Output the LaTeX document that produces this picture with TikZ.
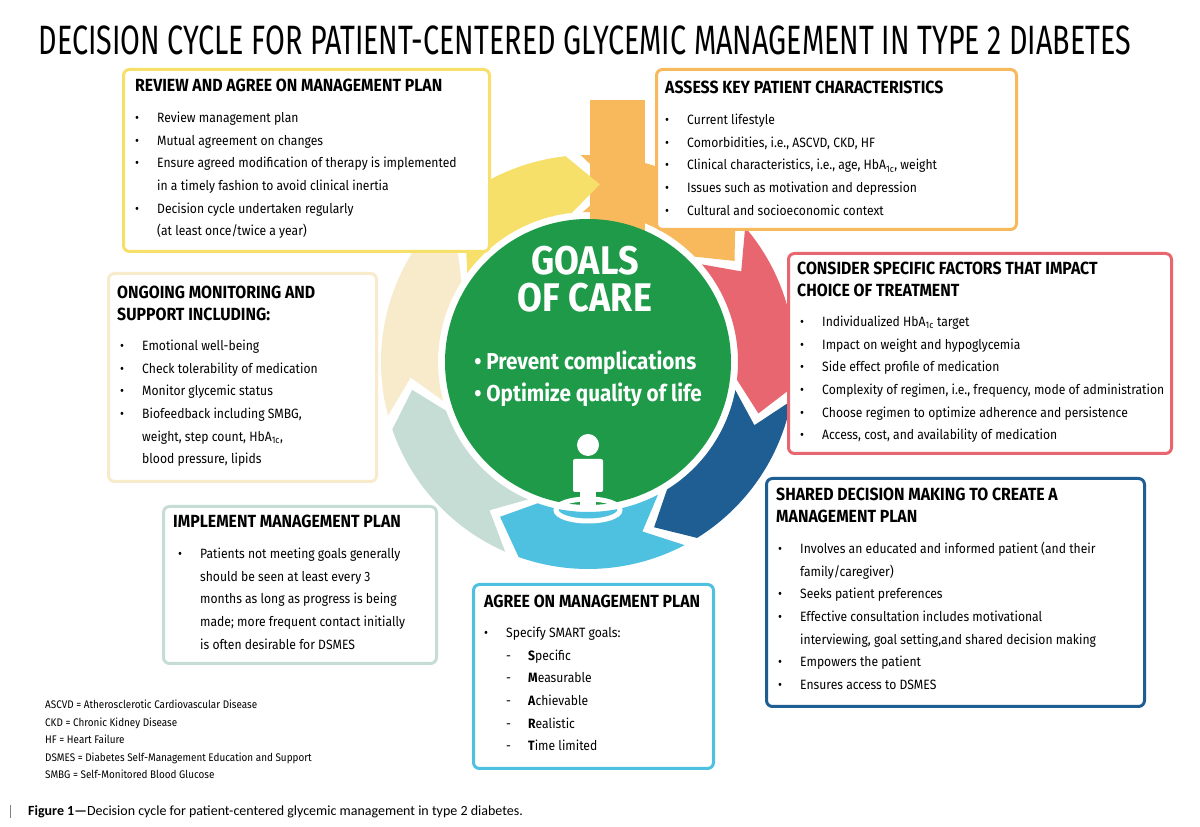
\documentclass[tikz,border=0pt]{standalone}
\usepackage{fontspec}
\setmainfont{Fira Sans}[FakeStretch=0.9]
\newfontfamily\titfont{Fira Sans}[FakeStretch=0.7]
\newfontfamily\capfont{Carlito}
\begin{document}
\begin{tikzpicture}[x=1pt,y=1pt,
  box/.style={draw=#1,line width=3pt,rounded corners=6pt,fill=white},
  txt/.style={anchor=north west,inner sep=0pt,align=left,font=\fontsize{13.5}{22.6}\selectfont},
  hd/.style={anchor=north west,inner sep=0pt,align=left,font=\fontsize{17.6}{21.5}\selectfont\bfseries}]
\definecolor{cyel}{HTML}{F6E06A}
\definecolor{cora}{HTML}{F8B95C}
\definecolor{cred}{HTML}{E8666F}
\definecolor{cblu}{HTML}{1F5E93}
\definecolor{clbl}{HTML}{4EC0E0}
\definecolor{ctea}{HTML}{C6DDD6}
\definecolor{cbei}{HTML}{F7EBCB}
\definecolor{cgrn}{HTML}{1E9A49}
\newcommand\itm[1]{\makebox[22pt][l]{\textbullet}#1}
\newcommand\cnt[1]{\hspace*{22pt}#1}
\newcommand\dsh[1]{\hspace*{22pt}\makebox[22pt][l]{-}#1}
\newcommand\seg[2]{\fill[#1] (#2:207) arc[start angle=#2,end angle=#2-47.4,radius=207] -- (#2-57.4:178) -- (#2-47.4:150) arc[start angle=#2-47.4,end angle=#2,radius=150] -- (#2-10:178) -- cycle;}
\useasboundingbox (0,0) rectangle (1200,827);
\fill[white] (0,0) rectangle (1200,827);
\node[inner sep=0pt,font=\titfont\fontsize{41}{41}\selectfont] (title) at (585,787) {DECISION CYCLE FOR PATIENT-CENTERED GLYCEMIC MANAGEMENT IN TYPE 2 DIABETES};
\begin{scope}[shift={(588,465)}]
\fill[cora] (2,0) rectangle (57,262);
\seg{cora}{92}
\seg{cred}{40.6}
\seg{cblu}{-10.8}
\seg{clbl}{-62.2}
\seg{ctea}{-113.6}
\seg{cbei}{-165}
\seg{cyel}{143.6}
\node[circle,fill=cgrn,minimum size=286pt,inner sep=0pt] (goal) at (0,0) {};
\node[text=white,font=\fontsize{40}{37}\selectfont\bfseries,align=center,inner sep=0pt] (gt) at (-3,83) {GOALS\\OF CARE};
\node[text=white,font=\fontsize{23}{32}\selectfont\bfseries,align=left,inner sep=0pt] (gb) at (0,-17) {\textbullet\ Prevent complications\\\textbullet\ Optimize quality of life};
\fill[white] (0,-83) circle (11);
\fill[white,rounded corners=2pt] (-15,-97) rectangle (15,-130);
\draw[white,line width=5pt] (0,-148) ellipse (32 and 11);
\fill[white] (-8,-128) rectangle (8,-148);
\end{scope}
% boxes
\node[box=cyel,minimum width=366pt,minimum height=182pt,anchor=north west] (rev) at (122,759) {};
\node[box=cora,minimum width=360pt,minimum height=160pt,anchor=north west] (ass) at (655,759) {};
\node[box=cred,minimum width=383pt,minimum height=200pt,anchor=north west] (con) at (787,575) {};
\node[box=cblu,minimum width=378pt,minimum height=228pt,anchor=north west] (sha) at (765,350) {};
\node[box=clbl,minimum width=240pt,minimum height=184pt,anchor=north west] (agr) at (472,244) {};
\node[box=ctea,minimum width=273pt,minimum height=157pt,anchor=north west] (imp) at (162,322) {};
\node[box=cbei,minimum width=268pt,minimum height=208pt,anchor=north west] (ong) at (107,555) {};
% texts
\node[hd] (revh) at (135,748) {REVIEW AND AGREE ON MANAGEMENT PLAN};
\node[txt] (revt) at (135,715) {\itm{Review management plan}\\\itm{Mutual agreement on changes}\\\itm{Ensure agreed modification of therapy is implemented}\\\cnt{in a timely fashion to avoid clinical inertia}\\\itm{Decision cycle undertaken regularly}\\\cnt{(at least once/twice a year)}};
\node[hd] (assh) at (665,746) {ASSESS KEY PATIENT CHARACTERISTICS};
\node[txt] (asst) at (665,713) {\itm{Current lifestyle}\\\itm{Comorbidities, i.e., ASCVD, CKD, HF}\\\itm{Clinical characteristics, i.e., age, HbA\textsubscript{1c}, weight}\\\itm{Issues such as motivation and depression}\\\itm{Cultural and socioeconomic context}};
\node[hd] (conh) at (797,565) {CONSIDER SPECIFIC FACTORS THAT IMPACT\\CHOICE OF TREATMENT};
\node[txt] (cont) at (800,511) {\itm{Individualized HbA\textsubscript{1c} target}\\\itm{Impact on weight and hypoglycemia}\\\itm{Side effect profile of medication}\\\itm{Complexity of regimen, i.e., frequency, mode of administration}\\\itm{Choose regimen to optimize adherence and persistence}\\\itm{Access, cost, and availability of medication}};
\node[hd] (shah) at (776,339) {SHARED DECISION MAKING TO CREATE A\\MANAGEMENT PLAN};
\node[txt] (shat) at (778,285) {\itm{Involves an educated and informed patient (and their}\\\cnt{family/caregiver)}\\\itm{Seeks patient preferences}\\\itm{Effective consultation includes motivational}\\\cnt{interviewing, goal setting,and shared decision making}\\\itm{Empowers the patient}\\\itm{Ensures access to DSMES}};
\node[hd] (agrh) at (484,232) {AGREE ON MANAGEMENT PLAN};
\node[txt] (agrt) at (484,200) {\itm{Specify SMART goals:}\\\dsh{\textbf{S}pecific}\\\dsh{\textbf{M}easurable}\\\dsh{\textbf{A}chievable}\\\dsh{\textbf{R}ealistic}\\\dsh{\textbf{T}ime limited}};
\node[hd] (imph) at (173,312) {IMPLEMENT MANAGEMENT PLAN};
\node[txt] (impt) at (178,279) {\itm{Patients not meeting goals generally}\\\cnt{should be seen at least every 3}\\\cnt{months as long as progress is being}\\\cnt{made; more frequent contact initially}\\\cnt{is often desirable for DSMES}};
\node[hd] (ongh) at (117,541) {ONGOING MONITORING AND\\SUPPORT INCLUDING:};
\node[txt] (ongt) at (120,487) {\itm{Emotional well-being}\\\itm{Check tolerability of medication}\\\itm{Monitor glycemic status}\\\itm{Biofeedback including SMBG,}\\\cnt{weight, step count, HbA\textsubscript{1c},}\\\cnt{blood pressure, lipids}};
\node[txt,font=\fontsize{11}{17.5}\selectfont] (abbr) at (45,127) {ASCVD = Atherosclerotic Cardiovascular Disease\\CKD = Chronic Kidney Disease\\HF = Heart Failure\\DSMES = Diabetes Self-Management Education and Support\\SMBG = Self-Monitored Blood Glucose};
\draw[gray,line width=1pt] (10,9) -- (10,22);
\node[anchor=west,inner sep=0pt,font=\capfont\fontsize{14}{16}\selectfont] (cap) at (28,15) {\textbf{Figure 1\symbol{"2014}}Decision cycle for patient-centered glycemic management in type 2 diabetes.};
\end{tikzpicture}
\end{document}
